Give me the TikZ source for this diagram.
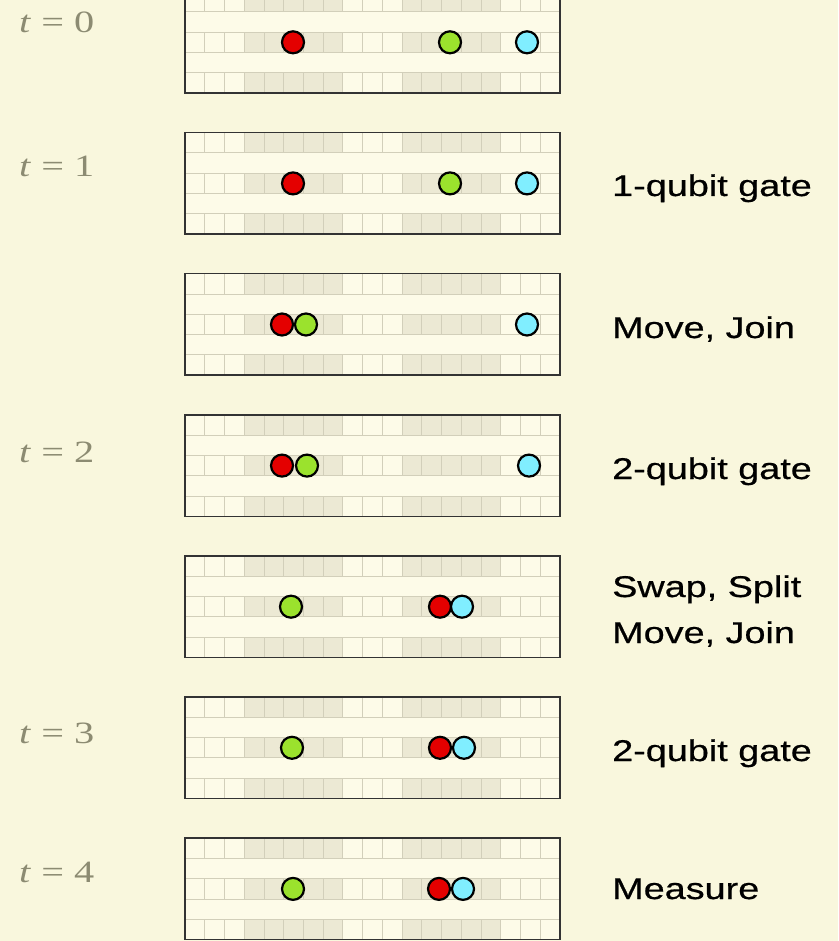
\documentclass[tikz,border=0pt]{standalone}
\usepackage{fontspec}
\newfontfamily\labfont[FakeStretch=1.26,FakeBold=0.6]{Liberation Sans}
\newfontfamily\tfont[FakeStretch=1.3]{Liberation Serif}
\definecolor{bg}{RGB}{249,247,221}
\definecolor{cellA}{RGB}{253,251,232}
\definecolor{cellB}{RGB}{236,233,212}
\definecolor{gridc}{RGB}{210,207,186}
\definecolor{tcol}{RGB}{140,139,114}
\definecolor{ionred}{RGB}{228,0,0}
\definecolor{iongreen}{RGB}{155,226,45}
\definecolor{ioncyan}{RGB}{128,238,255}
\tikzset{
  gridl/.style={draw=gridc, line width=0.9pt},
  border/.style={draw=black!80, line width=1.5pt},
  ion/.style={circle, draw=black, line width=2.2pt, minimum size=22pt, inner sep=0pt},
  tlab/.style={anchor=base west, text=tcol, font=\tfont\fontsize{31}{36}\selectfont, inner sep=0pt},
  rlab/.style={anchor=base west, text=black, font=\labfont\fontsize{30}{36}\selectfont, inner sep=0pt, align=left}
}
\begin{document}
\begin{tikzpicture}[x=1pt,y=-1pt]
\useasboundingbox (0,0) rectangle (838,941);
\fill[bg] (0,0) rectangle (838,941);
\foreach \k in {0,...,6}{
  \pgfmathsetmacro\T{-8.5+141.1*\k}
  \fill[cellA] (185,\T) rectangle ++(375,101.5);
  \foreach \r in {0,2,4}{
    \fill[cellB] (185+3*19.737,\T+\r*20.3) rectangle ++(5*19.737,20.3);
    \fill[cellB] (185+11*19.737,\T+\r*20.3) rectangle ++(5*19.737,20.3);
    \foreach \i in {1,...,18} \draw[gridl] (185+\i*19.737,\T+\r*20.3) -- ++(0,20.3);
  }
  \foreach \j in {1,...,4} \draw[gridl] (185,\T+\j*20.3) -- ++(375,0);
  \draw[border] (185,\T) rectangle ++(375,101.5);
}
% t = 0
\node[ion, fill=ionred]   (r0) at (293,42.3) {};
\node[ion, fill=iongreen] (g0) at (450,42.3) {};
\node[ion, fill=ioncyan]  (c0) at (527,42.3) {};
% t = 1
\node[ion, fill=ionred]   (r1) at (293,183.4) {};
\node[ion, fill=iongreen] (g1) at (450,183.4) {};
\node[ion, fill=ioncyan]  (c1) at (527,183.4) {};
% move, join
\node[ion, fill=ionred]   (r2) at (282,324.5) {};
\node[ion, fill=iongreen] (g2) at (306,324.5) {};
\node[ion, fill=ioncyan]  (c2) at (527,324.5) {};
% t = 2
\node[ion, fill=ionred]   (r3) at (282,465.6) {};
\node[ion, fill=iongreen] (g3) at (307,465.6) {};
\node[ion, fill=ioncyan]  (c3) at (529,465.6) {};
% swap split move join
\node[ion, fill=iongreen] (g4) at (291,606.7) {};
\node[ion, fill=ionred]   (r4) at (440,606.7) {};
\node[ion, fill=ioncyan]  (c4) at (462,606.7) {};
% t = 3
\node[ion, fill=iongreen] (g5) at (292,747.8) {};
\node[ion, fill=ionred]   (r5) at (440,747.8) {};
\node[ion, fill=ioncyan]  (c5) at (464,747.8) {};
% t = 4
\node[ion, fill=iongreen] (g6) at (293,888.9) {};
\node[ion, fill=ionred]   (r6) at (439,888.9) {};
\node[ion, fill=ioncyan]  (c6) at (463,888.9) {};
% time labels
\node[tlab] (t0) at (19,33) {\textit{t} = 0};
\node[tlab] (t1) at (19,177) {\textit{t} = 1};
\node[tlab] (t2) at (19,462) {\textit{t} = 2};
\node[tlab] (t3) at (19,743) {\textit{t} = 3};
\node[tlab] (t4) at (19,882) {\textit{t} = 4};
% operation labels
\node[rlab] (l1) at (612,196) {1-qubit gate};
\node[rlab] (l2) at (612,338) {Move, Join};
\node[rlab] (l3) at (612,479) {2-qubit gate};
\node[rlab] (l4a) at (612,597) {Swap, Split};
\node[rlab] (l4b) at (612,643) {Move, Join};
\node[rlab] (l5) at (612,761) {2-qubit gate};
\node[rlab] (l6) at (612,899) {Measure};
\end{tikzpicture}
\end{document}
